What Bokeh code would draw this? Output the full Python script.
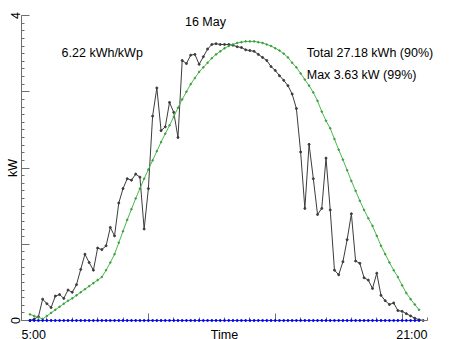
import numpy as np
from math import pi
from bokeh.plotting import figure
from bokeh.models import FixedTicker, Label, Range1d, LinearAxis
from bokeh.embed import file_html
from bokeh.resources import INLINE

# ---- data (kW, every 10 minutes) ----
STEP_H = 10 / 60

black_start_h = 5 + 20 / 60   # 5:20
black_kw = [
    0.00, 0.02, 0.05, 0.28, 0.22, 0.17, 0.32, 0.34, 0.29, 0.40,   # 5:20 - 6:50
    0.37, 0.47, 0.67, 0.87, 0.76, 0.66, 0.95, 0.93, 0.98, 1.22,   # 7:00 - 8:30
    1.11, 1.54, 1.73, 1.86, 1.84, 1.92, 1.88, 1.20, 1.73, 2.68,   # 8:40 - 10:10
    3.05, 2.49, 2.54, 2.86, 2.73, 2.40, 3.41, 3.37, 3.48, 3.49,   # 10:20 - 11:50
    3.36, 3.46, 3.56, 3.62, 3.63, 3.62, 3.62, 3.62, 3.61, 3.59,   # 12:00 - 13:30
    3.58, 3.55, 3.54, 3.53, 3.49, 3.45, 3.41, 3.33, 3.28, 3.21,   # 13:40 - 15:10
    3.15, 3.08, 2.97, 2.78, 2.21, 1.47, 2.31, 1.86, 1.39, 1.47,   # 15:20 - 16:50
    2.13, 1.45, 0.66, 0.60, 0.77, 1.06, 1.40, 0.78, 0.75, 0.56,   # 17:00 - 18:30
    0.53, 0.42, 0.62, 0.33, 0.26, 0.21, 0.23, 0.13, 0.12, 0.09,   # 18:40 - 20:10
    0.06, 0.03, 0.01, 0.00,                                       # 20:20 - 20:50
]

green_start_h = 5 + 20 / 60   # 5:20
green_kw = [
    0.08, 0.06, 0.04, 0.02, 0.06, 0.10, 0.14, 0.18, 0.22, 0.26,   # 5:20 - 6:50
    0.29, 0.33, 0.37, 0.41, 0.45, 0.49, 0.53, 0.57, 0.66, 0.76,   # 7:00 - 8:30
    0.87, 1.02, 1.17, 1.32, 1.46, 1.60, 1.73, 1.86, 1.98, 2.10,   # 8:40 - 10:10
    2.22, 2.34, 2.45, 2.56, 2.67, 2.79, 2.90, 3.00, 3.10, 3.18,   # 10:20 - 11:50
    3.26, 3.32, 3.38, 3.44, 3.49, 3.53, 3.57, 3.60, 3.62, 3.64,   # 12:00 - 13:30
    3.65, 3.66, 3.66, 3.66, 3.65, 3.64, 3.62, 3.60, 3.57, 3.54,   # 13:40 - 15:10
    3.50, 3.45, 3.38, 3.32, 3.24, 3.16, 3.08, 2.99, 2.88, 2.74,   # 15:20 - 16:50
    2.62, 2.52, 2.38, 2.24, 2.11, 1.97, 1.83, 1.70, 1.57, 1.45,   # 17:00 - 18:30
    1.34, 1.24, 1.11, 0.98, 0.87, 0.76, 0.66, 0.57, 0.46, 0.36,   # 18:40 - 20:10
    0.28, 0.21, 0.14,                                             # 20:20 - 20:40
]

blue_start_h = 5 + 20 / 60
blue_kw = [0.0] * 93

x_start_h, x_end_h = 5, 21
y_min_kw, y_max_kw = 0, 4
x_tick_hours = [10, 15, 20]
x_minor_hours = list(range(5, 22))
y_ticks = [0, 1, 2, 3, 4]
y_tick_labels = {0: "0", 1: "", 2: "", 3: "", 4: "4"}

title_text = "16 May"
yield_text = "6.22 kWh/kWp"
total_text = "Total 27.18 kWh (90%)"
max_text = "Max 3.63 kW (99%)"

black_t = black_start_h + np.arange(len(black_kw)) * STEP_H
green_t = green_start_h + np.arange(len(green_kw)) * STEP_H
blue_t = blue_start_h + np.arange(len(blue_kw)) * STEP_H

# ---- layout: the frame fills the canvas, axes sit at fixed positions ----
W, H = 452, 339
AX_L, AX_R = 21, 427      # pixel x of 5:00 and 21:00
AX_T, AX_B = 15, 320      # pixel y of 4 kW and 0 kW
px_per_h = (AX_R - AX_L) / (x_end_h - x_start_h)
px_per_kw = (AX_B - AX_T) / (y_max_kw - y_min_kw)
x_range = Range1d(x_start_h - AX_L / px_per_h, x_start_h + (W - AX_L) / px_per_h)
y_range = Range1d(y_min_kw - (H - AX_B) / px_per_kw, y_max_kw + AX_T / px_per_kw)

FONT = "Liberation Sans"
FS = "12.5px"
AXIS_COL = "#6e6e6e"

p = figure(width=W, height=H, x_range=x_range, y_range=y_range,
           output_backend="svg", toolbar_location=None,
           x_axis_location=None, y_axis_location=None,
           min_border=0)
p.outline_line_color = None
p.grid.visible = False

# x axis
xa = LinearAxis(fixed_location=y_min_kw, bounds=(x_start_h, x_end_h))
xa.ticker = FixedTicker(ticks=x_tick_hours, minor_ticks=x_minor_hours)
xa.major_label_overrides = {h: "" for h in x_tick_hours}
xa.major_label_text_font_size = "1px"
xa.major_tick_in = 7
xa.major_tick_out = 0
xa.minor_tick_in = 3
xa.minor_tick_out = 0
xa.axis_line_color = AXIS_COL
xa.major_tick_line_color = AXIS_COL
xa.minor_tick_line_color = AXIS_COL
p.add_layout(xa, "below")

# y axis
ya = LinearAxis(fixed_location=x_start_h, bounds=(y_min_kw, y_max_kw))
ya.ticker = FixedTicker(ticks=y_ticks, minor_ticks=[round(v, 1) for v in np.arange(0, 4.01, 0.1)])
ya.major_label_overrides = y_tick_labels
ya.major_label_orientation = "vertical"
ya.major_label_standoff = 2
ya.major_label_text_font = FONT
ya.major_label_text_font_size = FS
ya.major_label_text_color = "black"
ya.major_tick_in = 8
ya.major_tick_out = 0
ya.minor_tick_in = 3
ya.minor_tick_out = 0
ya.axis_line_color = AXIS_COL
ya.major_tick_line_color = AXIS_COL
ya.minor_tick_line_color = AXIS_COL
p.add_layout(ya, "left")

# series
p.line(black_t, black_kw, line_color="#3c3c3c", line_width=1)
p.scatter(black_t, black_kw, size=2, color="#3c3c3c")
p.line(green_t, green_kw, line_color="#4cb84c", line_width=1)
p.scatter(green_t, green_kw, size=1.6, color="#3a9f3a")
p.line(blue_t, blue_kw, line_color="#3a3aff", line_width=1, level="annotation")
p.scatter(blue_t, blue_kw, size=2, color="#0000ee", level="annotation")

def lab(x, y, text, **kw):
    p.add_layout(Label(x=x, y=y, text=text, text_font=FONT, text_font_size=FS,
                       text_color="black", **kw))

lab(x_start_h, 2, "kW", x_offset=-9, angle=pi / 2, text_align="center", text_baseline="middle")
lab(x_start_h, 0, "5:00", y_offset=-14.5, text_align="left", text_baseline="alphabetic")
lab(x_end_h, 0, "21:00", y_offset=-14.5, text_align="right", text_baseline="alphabetic")
lab((x_start_h + x_end_h) / 2, 0, "Time", y_offset=-14.5, text_align="center", text_baseline="alphabetic")
lab(12.25, 3.92, title_text, text_align="center", text_baseline="alphabetic")
lab(6.58, 3.505, yield_text, text_align="left", text_baseline="alphabetic")
lab(16.24, 3.505, total_text, text_align="left", text_baseline="alphabetic")
lab(16.24, 3.225, max_text, text_align="left", text_baseline="alphabetic")

open("out.html", "w").write(file_html(p, INLINE))
